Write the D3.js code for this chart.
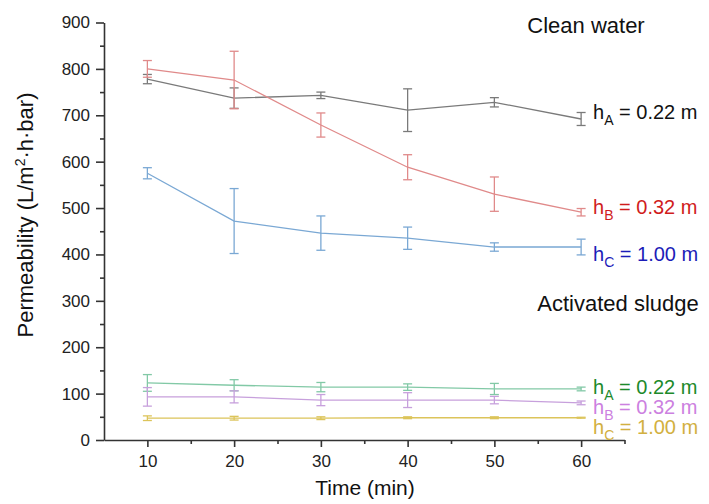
<!DOCTYPE html>
<html>
<head>
<meta charset="utf-8">
<script src="https://cdn.jsdelivr.net/npm/d3@7"></script>
<style>
  body { margin: 0; background: #fff; }
  text { font-family: "Liberation Sans", Arial, sans-serif; }
</style>
</head>
<body>
<div id="chart"></div>
<script>
// time points (min)
const times = [10, 20, 30, 40, 50, 60];

// clean water
const cleanA = [778, 737, 743, 711, 728, 692];
const cleanAErr = [10, 22, 7, 46, 10, 14];
const cleanB = [800, 776, 679, 588, 530, 491];
const cleanBErr = [18, 62, 26, 27, 37, 8];
const cleanC = [575, 472, 446, 435, 416, 416];
const cleanCErr = [12, 70, 37, 24, 9, 17];

// activated sludge
const sludgeA = [123, 118, 114, 114, 110, 110];
const sludgeAErr = [18, 12, 10, 7, 12, 4];
const sludgeB = [93, 93, 86, 86, 86, 80];
const sludgeBErr = [20, 13, 12, 16, 8, 4];
const sludgeC = [47, 47, 47, 48, 48, 48];
const sludgeCErr = [5, 4, 3, 2, 2, 1];

const seriesNames = ["A", "B", "C", "A", "B", "C"];
const seriesHeights = ["0.22", "0.32", "1.00", "0.22", "0.32", "1.00"];

const yTicks = [0, 100, 200, 300, 400, 500, 600, 700, 800, 900];
const xTicks = [10, 20, 30, 40, 50, 60];

// labelY = where the label sits, in permeability units
const series = [
    { v: cleanA, e: cleanAErr, line: "#7a7a7a", txt: "#111", labelY: 706 },
    { v: cleanB, e: cleanBErr, line: "#e08a8a", txt: "#d01c1c", labelY: 502 },
    { v: cleanC, e: cleanCErr, line: "#7aa8d4", txt: "#1c1cb8", labelY: 400 },
    { v: sludgeA, e: sludgeAErr, line: "#82c9a6", txt: "#1d8a2a", labelY: 114 },
    { v: sludgeB, e: sludgeBErr, line: "#c7a0dc", txt: "#cc80e0", labelY: 71 },
    { v: sludgeC, e: sludgeCErr, line: "#dcc45a", txt: "#d2b040", labelY: 28 }
];

const W = 709, H = 504;
const svg = d3.select("#chart").append("svg")
    .attr("width", W)
    .attr("height", H);

const x = d3.scaleLinear().domain([5, 65]).range([104, 624.5]);
const y = d3.scaleLinear().domain([0, 900]).range([440, 22.5]);

// axes
svg.append("g")
    .attr("transform", "translate(0,440)")
    .call(d3.axisBottom(x).tickValues(xTicks).tickSize(7).tickSizeOuter(0).tickPadding(8));
svg.append("g")
    .attr("transform", "translate(0,440)")
    .call(d3.axisBottom(x).tickValues(d3.range(15, 66, 10)).tickSize(4).tickFormat(""))
    .select(".domain").remove();

svg.append("g")
    .attr("transform", "translate(104,0)")
    .call(d3.axisLeft(y).tickValues(yTicks).tickSize(8).tickSizeOuter(0).tickPadding(6));
svg.append("g")
    .attr("transform", "translate(104,0)")
    .call(d3.axisLeft(y).tickValues(d3.range(50, 900, 100)).tickSize(4).tickFormat(""))
    .select(".domain").remove();

svg.selectAll(".domain, .tick line")
    .attr("stroke", "#333")
    .attr("stroke-width", 1.6);
svg.selectAll(".tick text")
    .attr("fill", "#222")
    .style("font-size", "17px");

// axis titles
svg.append("text")
    .attr("x", 365).attr("y", 495)
    .attr("text-anchor", "middle")
    .style("font-size", "21px")
    .attr("fill", "#111")
    .text("Time (min)");

const yt = svg.append("text")
    .attr("transform", "translate(33,215) rotate(-90)")
    .attr("text-anchor", "middle")
    .style("font-size", "22px")
    .attr("fill", "#111");
yt.append("tspan").text("Permeability (L/m");
yt.append("tspan").attr("dy", -8).style("font-size", "14px").text("2");
yt.append("tspan").attr("dy", 8).text("\u00b7h\u00b7bar)");

// lines and error bars
const line = d3.line()
    .x((d, i) => x(times[i]))
    .y(d => y(d));

series.forEach(function (s) {
    svg.append("path")
        .datum(s.v)
        .attr("fill", "none")
        .attr("stroke", s.line)
        .attr("stroke-width", 1.3)
        .attr("d", line);

    const g = svg.append("g").attr("stroke", s.line).attr("stroke-width", 1.3);
    s.v.forEach(function (v, i) {
        const cx = x(times[i]);
        g.append("line")
            .attr("x1", cx).attr("x2", cx)
            .attr("y1", y(v - s.e[i])).attr("y2", y(v + s.e[i]));
        g.append("line")
            .attr("x1", cx - 4.5).attr("x2", cx + 4.5)
            .attr("y1", y(v - s.e[i])).attr("y2", y(v - s.e[i]));
        g.append("line")
            .attr("x1", cx - 4.5).attr("x2", cx + 4.5)
            .attr("y1", y(v + s.e[i])).attr("y2", y(v + s.e[i]));
    });
});

// series labels
series.forEach(function (s, i) {
    const t = svg.append("text")
        .attr("x", 593)
        .attr("y", y(s.labelY) + 7)
        .attr("fill", s.txt)
        .style("font-size", "20px");
    t.append("tspan").text("h");
    t.append("tspan").attr("dy", 6).style("font-size", "14px").text(seriesNames[i]);
    t.append("tspan").attr("dy", -6).text(" = " + seriesHeights[i] + " m");
});

// group titles
svg.append("text")
    .attr("x", 586).attr("y", 33)
    .attr("text-anchor", "middle")
    .style("font-size", "22px")
    .attr("fill", "#111")
    .text("Clean water");
svg.append("text")
    .attr("x", 618).attr("y", 311)
    .attr("text-anchor", "middle")
    .style("font-size", "22px")
    .attr("fill", "#111")
    .text("Activated sludge");
</script>
</body>
</html>
